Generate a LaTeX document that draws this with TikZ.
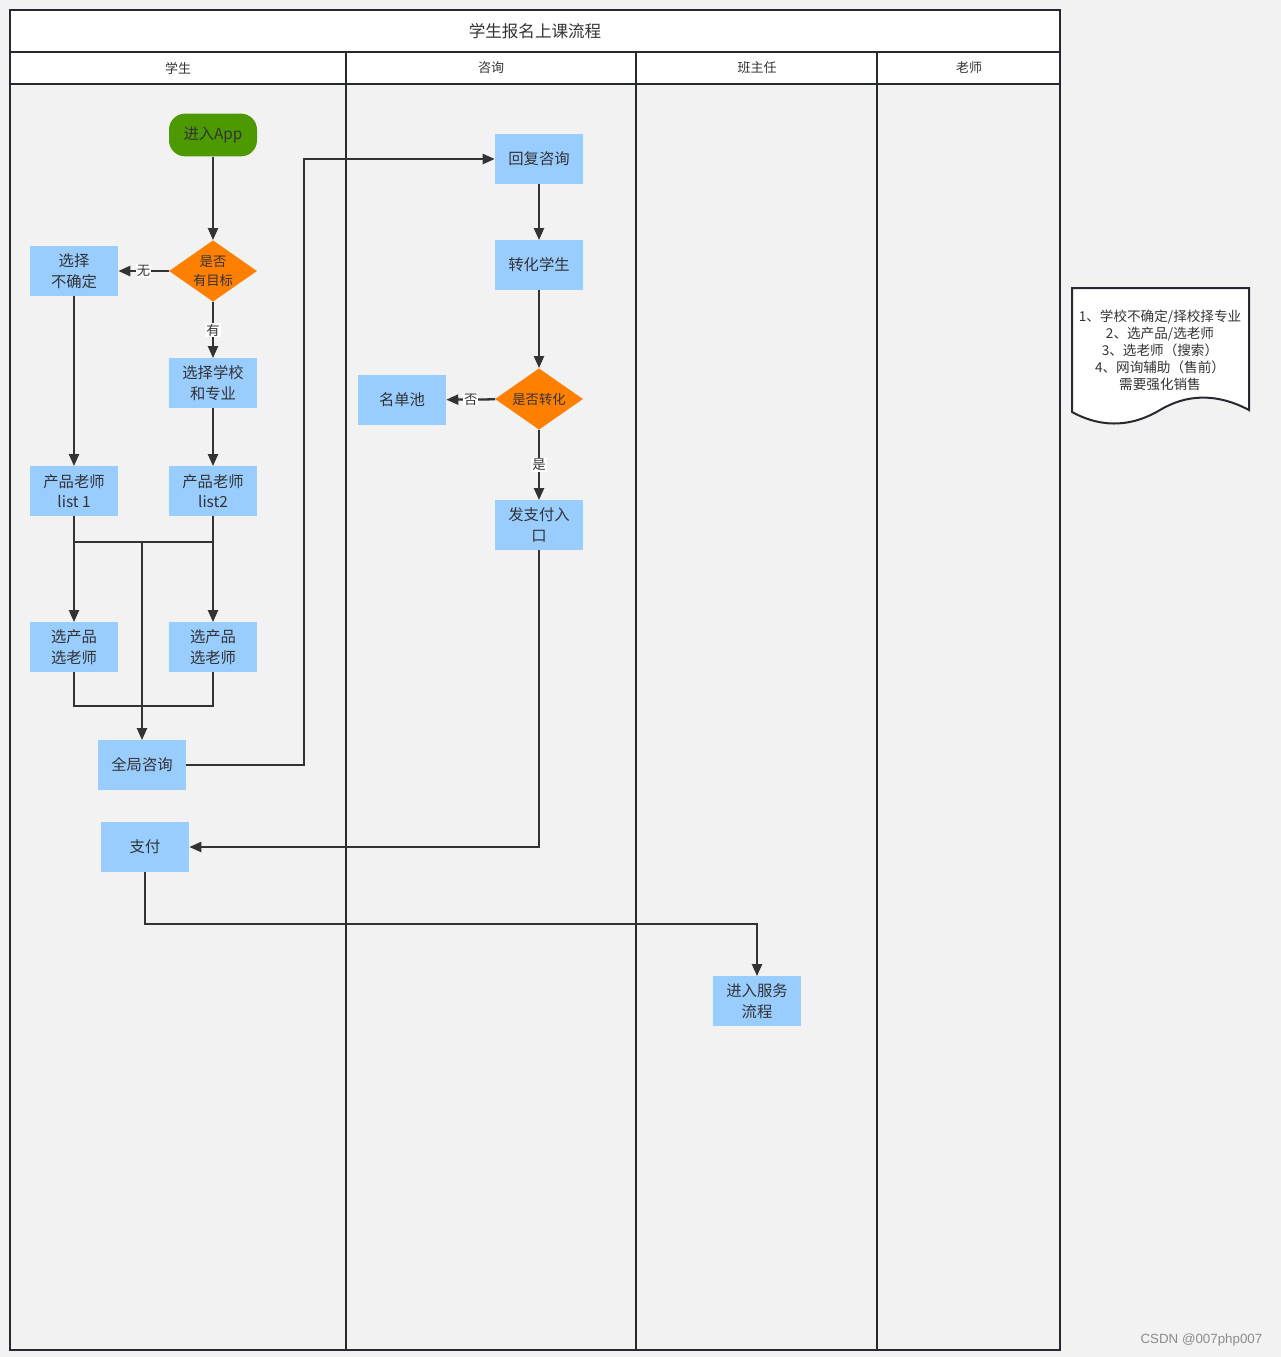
\documentclass[tikz,border=0pt]{standalone}
\usepackage{fontspec}
\setmainfont{Noto Sans CJK SC}
\newfontfamily\wmfont{Liberation Sans}
\usetikzlibrary{arrows.meta,shapes.geometric}
\definecolor{bgc}{HTML}{F2F2F2}
\definecolor{boxc}{HTML}{99CCFF}
\definecolor{greenc}{HTML}{4D9900}
\definecolor{orangec}{HTML}{FF8000}
\definecolor{linec}{HTML}{333333}
\definecolor{poolc}{HTML}{262A30}
\definecolor{txtc}{HTML}{333333}
\tikzset{
  box/.style={rectangle, fill=boxc, minimum width=66pt, minimum height=37pt, inner sep=2pt, align=center, text=txtc, font=\fontsize{11.5}{15.5}\selectfont},
  startbox/.style={rectangle, rounded corners=12pt, fill=greenc, minimum width=66pt, minimum height=32pt, inner sep=2pt, text=txtc, font=\fontsize{11.5}{15.5}\selectfont},
  dia/.style={diamond, fill=orangec, minimum width=66pt, minimum height=46pt, inner sep=0pt, aspect=1.42},
  diatext/.style={align=center, text=txtc, font=\fontsize{10}{14}\selectfont},
  conn/.style={draw=linec, line width=1.7pt},
  arr/.style={conn, -{Triangle[length=9pt,width=7.5pt]}},
  lbl/.style={fill=white, inner sep=0.8pt, text=txtc, font=\fontsize{10}{11}\selectfont},
  hdr/.style={text=txtc, font=\fontsize{9.75}{12}\selectfont},
}
\begin{document}
\begin{tikzpicture}[x=0.75pt,y=-0.75pt]
\useasboundingbox (0,0) rectangle (1281,1357);
\fill[bgc] (0,0) rectangle (1281,1357);
% pool
\fill[white] (10,10) rectangle (1060,84);
\draw[poolc, line width=1.6pt] (10,10) rectangle (1060,1350);
\draw[poolc, line width=1.6pt] (10,52) -- (1060,52);
\draw[poolc, line width=1.6pt] (10,84) -- (1060,84);
\foreach \xx in {346,636,877} \draw[poolc, line width=1.6pt] (\xx,52) -- (\xx,1350);
\node[text=txtc, font=\fontsize{12.4}{15}\selectfont] (title) at (535,31) {学生报名上课流程};
\node[hdr] (h1) at (178,68) {学生};
\node[hdr] (h2) at (491,68) {咨询};
\node[hdr] (h3) at (757,68) {班主任};
\node[hdr] (h4) at (969,68) {老师};
% nodes
\node[startbox] (app) at (213,135) {进入App};
\node[dia, label={[diatext]center:是否\\有目标}] (goal) at (213,271) {};
\node[box] (unsure) at (74,271) {选择\\不确定};
\node[box] (school) at (213,383) {选择学校\\和专业};
\node[box] (l1) at (74,491) {产品老师\\list 1};
\node[box] (l2) at (213,491) {产品老师\\list2};
\node[box] (p1) at (74,647) {选产品\\选老师};
\node[box] (p2) at (213,647) {选产品\\选老师};
\node[box] (global) at (142,765) {全局咨询};
\node[box] (pay) at (145,847) {支付};
\node[box] (reply) at (539,159) {回复咨询};
\node[box] (conv) at (539,265) {转化学生};
\node[dia, label={[diatext]center:是否转化}] (isconv) at (539,399) {};
\node[box] (pool) at (402,400) {名单池};
\node[box] (payentry) at (539,525) {发支付入\\口};
\node[box] (service) at (757,1001) {进入服务\\流程};
\coordinate (j1) at (142,542);
\coordinate (j2) at (142,706);
\coordinate (c1) at (304,765);
\coordinate (c2) at (304,159);
\coordinate (c3) at (145,924);
% connectors
\draw[arr] (app) -- (goal);
\draw[arr] (goal) -- node[lbl]{无} (unsure);
\draw[arr] (goal) -- node[lbl]{有} (school);
\draw[arr] (unsure) -- (l1);
\draw[arr] (school) -- (l2);
\draw[arr] (l1) -- (p1);
\draw[arr] (l2) -- (p2);
\draw[conn] (l1.south) |- (j1);
\draw[conn] (l2.south) |- (j1);
\draw[arr] (j1) -- (global);
\draw[conn] (p1.south) |- (j2);
\draw[conn] (p2.south) |- (j2);
\draw[arr] (global) -- (c1) -- (c2) -- (reply);
\draw[arr] (reply) -- (conv);
\draw[arr] (conv) -- (isconv);
\draw[arr] (isconv) -- node[lbl]{否} (pool);
\draw[arr] (isconv) -- node[lbl]{是} (payentry);
\draw[arr] (payentry) |- (pay);
\draw[arr] (pay) -- (c3) -| (service);
% note
\draw[fill=white, draw=poolc, line width=1.5pt] (1072,288) -- (1249,288) -- (1249,410)
  .. controls (1215,392) and (1185,395) .. (1160,410)
  .. controls (1135,425) and (1105,430) .. (1072,412) -- cycle;
\node[align=center, text=txtc, font=\fontsize{10.2}{12.8}\selectfont] (note) at (1160,350)
  {1、学校不确定/择校择专业\\2、选产品/选老师\\3、选老师（搜索）\\4、网询辅助（售前）\\需要强化销售};
\node[text=black!45, font=\wmfont\fontsize{10}{12}\selectfont, anchor=east] (wm) at (1267,1340) {CSDN @007php007};
\end{tikzpicture}
\end{document}
